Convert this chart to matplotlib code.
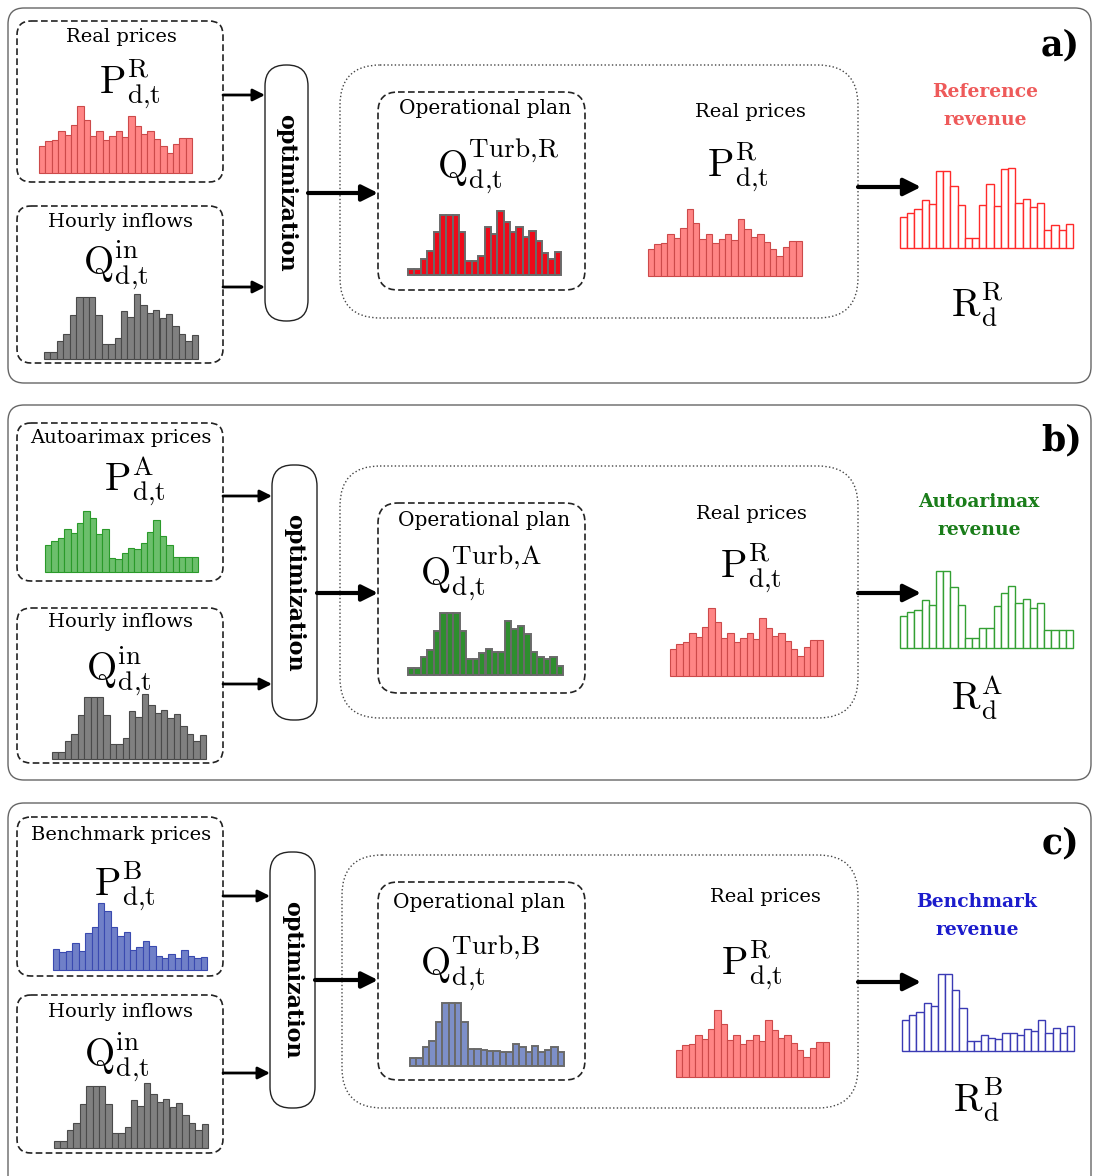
import matplotlib
matplotlib.use("Agg")
import matplotlib.pyplot as plt
from matplotlib.patches import FancyBboxPatch

plt.rcParams['font.family'] = 'DejaVu Serif'
plt.rcParams['mathtext.fontset'] = 'cm'

W, H = 1093, 1176

# hourly series (24 h) for one day
real_prices = [27, 32, 34, 43, 39, 49, 68, 54, 38, 43, 34, 38, 43, 37, 58, 48, 40, 43, 35, 27, 20, 29, 36, 36]
inflows = [7, 7, 18, 25, 44, 62, 62, 62, 44, 15, 15, 21, 48, 42, 65, 54, 46, 49, 41, 45, 33, 25, 18, 24]

turb_ref = [6, 6, 16, 24, 43, 60, 60, 60, 43, 14, 14, 19, 48, 41, 64, 53, 43, 48, 38, 44, 34, 22, 16, 23]
rev_ref = [31, 35, 39, 48, 44, 77, 77, 62, 43, 10, 10, 43, 64, 42, 79, 80, 45, 49, 41, 45, 18, 23, 18, 24]

arimax_prices = [27, 31, 34, 43, 39, 49, 61, 54, 38, 43, 14, 13, 19, 24, 23, 29, 40, 52, 36, 27, 15, 15, 15, 15]
turb_arimax = [7, 7, 18, 25, 44, 62, 62, 62, 44, 16, 16, 22, 26, 23, 23, 54, 46, 49, 41, 23, 18, 16, 18, 9]
rev_arimax = [32, 36, 39, 49, 44, 78, 78, 62, 44, 10, 10, 20, 20, 43, 56, 63, 46, 50, 41, 46, 18, 18, 18, 18]

bench_prices = [21, 18, 19, 27, 19, 37, 43, 67, 59, 43, 34, 38, 20, 23, 29, 24, 14, 12, 16, 12, 20, 14, 12, 13]
turb_bench = [8, 8, 19, 25, 44, 63, 63, 63, 44, 17, 17, 16, 15, 15, 14, 14, 22, 19, 14, 20, 14, 16, 19, 14]
rev_bench = [31, 36, 39, 48, 45, 77, 77, 61, 43, 10, 10, 16, 13, 12, 18, 18, 16, 22, 20, 31, 18, 23, 18, 25]

fig = plt.figure(figsize=(W / 100, H / 100), dpi=100)
ax = fig.add_axes([0, 0, 1, 1])
ax.set_xlim(0, W)
ax.set_ylim(H, 0)
ax.axis('off')

DT = r'\mathrm{d{,}t}'


def rbox(x0, y0, x1, y1, r=12, ls='--', lw=1.2, ec='#222222', dashes=None):
    p = FancyBboxPatch((x0, y0), x1 - x0, y1 - y0,
                       boxstyle=f"round,pad=0,rounding_size={r}",
                       fc='none', ec=ec, lw=lw, ls=ls)
    if dashes is not None:
        p.set_linestyle((0, dashes))
    ax.add_patch(p)


def bars(vals, x0, x1, top, base, fc, ec, lw=0.8):
    b = fig.add_axes([x0 / W, 1 - base / H, (x1 - x0) / W, (base - top) / H])
    b.bar(range(len(vals)), vals, width=1, align='edge', color=fc,
          edgecolor=ec, linewidth=lw, clip_on=False)
    b.set_xlim(0, len(vals))
    b.set_ylim(0, max(vals))
    b.axis('off')


def arrow(x0, x1, y, lw=2, ms=20):
    ax.annotate('', xy=(x1, y), xytext=(x0, y),
                arrowprops=dict(arrowstyle='-|>', lw=lw, color='k',
                                mutation_scale=ms, shrinkA=0, shrinkB=0))


def mlabel(x, y, s, size=28):
    ax.text(x, y, s, fontsize=size, ha='center', va='center')


def panel(opt_x, tag, prices_title, p_sym, p_vals, p_fc, p_ec,
          turb_sym, turb_vals, turb_fc, rev_title, rev_col, rev_vals, rev_ec,
          rev_sym, geo):
    g = geo
    # outer frame
    rbox(8, g['frame'][0], 1091, g['frame'][1], r=16, ls='-', lw=1.0, ec='#666666')
    # input boxes
    rbox(17, g['pbox'][0], 223, g['pbox'][1], r=14, dashes=(4, 2))
    rbox(17, g['qbox'][0], 223, g['qbox'][1], r=14, dashes=(4, 2))
    ax.text(121, g['ptitle'], prices_title, fontsize=14, ha='center', va='center')
    ax.text(121, g['qtitle'], 'Hourly inflows', fontsize=14, ha='center', va='center')
    mlabel(*g['plab'], r'$\mathrm{P}_{%s}^{\mathrm{%s}}$' % (DT, p_sym))
    mlabel(*g['qlab'], r'$\mathrm{Q}_{%s}^{\mathrm{in}}$' % DT)
    bars(p_vals, *g['pbars'], fc=p_fc, ec=p_ec)
    bars(inflows, *g['qbars'], fc='#808080', ec='#4a4a4a')
    # arrows into the optimizer
    arrow(223, opt_x[0], g['arr'][0], lw=2, ms=18)
    arrow(223, opt_x[0], g['arr'][1], lw=2, ms=18)
    rbox(opt_x[0], g['opt'][0], opt_x[1], g['opt'][1], r=21, ls='-', lw=1.0, ec='#222222')
    ax.text((opt_x[0] + opt_x[1]) / 2, (g['opt'][0] + g['opt'][1]) / 2, 'optimization',
            fontsize=16, fontweight='bold', rotation=270, ha='center', va='center')
    arrow(opt_x[1], 378, g['arr_mid'], lw=3, ms=24)
    # evaluation block
    rbox(g['big'][0], g['big'][1], g['big'][2], g['big'][3], r=40, ls=':', lw=1.0, ec='#444444')
    rbox(378, g['op'][0], 585, g['op'][1], r=20, dashes=(4, 2))
    ax.text(g['optitle'][0], g['optitle'][1], 'Operational plan', fontsize=14.5,
            ha='center', va='center')
    mlabel(*g['tlab'], r'$\mathrm{Q}_{%s}^{\mathrm{Turb{,}%s}}$' % (DT, turb_sym))
    bars(turb_vals, *g['tbars'], fc=turb_fc, ec='#6a6a6a', lw=1.4)
    ax.text(g['rptitle'][0], g['rptitle'][1], 'Real prices', fontsize=14,
            ha='center', va='center')
    mlabel(*g['rplab'], r'$\mathrm{P}_{%s}^{\mathrm{R}}$' % DT)
    bars(real_prices, *g['rpbars'], fc='#ff8585', ec='#cc4a4a')
    # revenue
    arrow(g['big'][2], 921, g['arr_rev'], lw=3, ms=26)
    ax.text(g['revtitle'][0], g['revtitle'][1], rev_title, fontsize=13.5,
            fontweight='bold', color=rev_col, ha='center', va='center', linespacing=1.75)
    bars(rev_vals, *g['revbars'], fc='white', ec=rev_ec, lw=1.0)
    mlabel(*g['revlab'], r'$\mathrm{R}_{\mathrm{d}}^{\mathrm{%s}}$' % rev_sym)
    ax.text(g['tag'][0], g['tag'][1], tag + ')', fontsize=25, fontweight='bold',
            ha='center', va='center')


geo_a = dict(frame=(8, 383), pbox=(21, 182), qbox=(206, 363), ptitle=37, qtitle=222,
             plab=(130, 84), qlab=(116, 265),
             pbars=(39, 192, 106, 173), qbars=(44, 198, 294, 359),
             arr=(95, 287), opt=(65, 321), arr_mid=193,
             big=(340, 65, 858, 318), op=(92, 290), optitle=(485, 109),
             tlab=(498, 165), tbars=(408, 561, 211, 275),
             rptitle=(750, 112), rplab=(738, 167), rpbars=(648, 802, 209, 276),
             arr_rev=187, revtitle=(985, 106), revbars=(900, 1073, 168, 248),
             revlab=(977, 305), tag=(1060, 45))

geo_b = dict(frame=(405, 780), pbox=(423, 581), qbox=(608, 763), ptitle=438, qtitle=622,
             plab=(135, 481), qlab=(119, 671),
             pbars=(45, 198, 511, 572), qbars=(52, 206, 694, 759),
             arr=(496, 684), opt=(465, 720), arr_mid=593,
             big=(340, 466, 858, 718), op=(503, 693), optitle=(484, 520),
             tlab=(481, 572), tbars=(408, 563, 613, 675),
             rptitle=(751, 514), rplab=(751, 568), rpbars=(670, 823, 608, 676),
             arr_rev=593, revtitle=(979, 516), revbars=(900, 1073, 571, 648),
             revlab=(977, 697), tag=(1062, 440))

geo_c = dict(frame=(803, 1200), pbox=(817, 976), qbox=(995, 1153), ptitle=835, qtitle=1012,
             plab=(125, 886), qlab=(117, 1057),
             pbars=(53, 207, 903, 970), qbars=(54, 208, 1083, 1148),
             arr=(896, 1073), opt=(852, 1108), arr_mid=980,
             big=(342, 855, 858, 1108), op=(882, 1080), optitle=(479, 903),
             tlab=(480, 962), tbars=(410, 564, 1003, 1066),
             rptitle=(765, 897), rplab=(752, 965), rpbars=(676, 829, 1010, 1077),
             arr_rev=982, revtitle=(977, 916), revbars=(902, 1074, 974, 1051),
             revlab=(978, 1100), tag=(1060, 843))

panel((265, 308), 'a', 'Real prices', 'R',
      real_prices, '#ff8585', '#cc4a4a',
      'R', turb_ref, '#ee0a1a',
      'Reference\nrevenue', '#ee5a5a', rev_ref, '#ff2a2a', 'R', geo_a)

panel((272, 317), 'b', 'Autoarimax prices', 'A',
      arimax_prices, '#6cbf6c', '#2a9a2a',
      'A', turb_arimax, '#2e8e2e',
      'Autoarimax\nrevenue', '#1a7d1a', rev_arimax, '#33a033', 'A', geo_b)

panel((270, 315), 'c', 'Benchmark prices', 'B',
      bench_prices, '#7080c8', '#3a4ab0',
      'B', turb_bench, '#7d8fc8',
      'Benchmark\nrevenue', '#1c1ccc', rev_bench, '#3a3ab4', 'B', geo_c)

fig.savefig('out.png', dpi=100)
